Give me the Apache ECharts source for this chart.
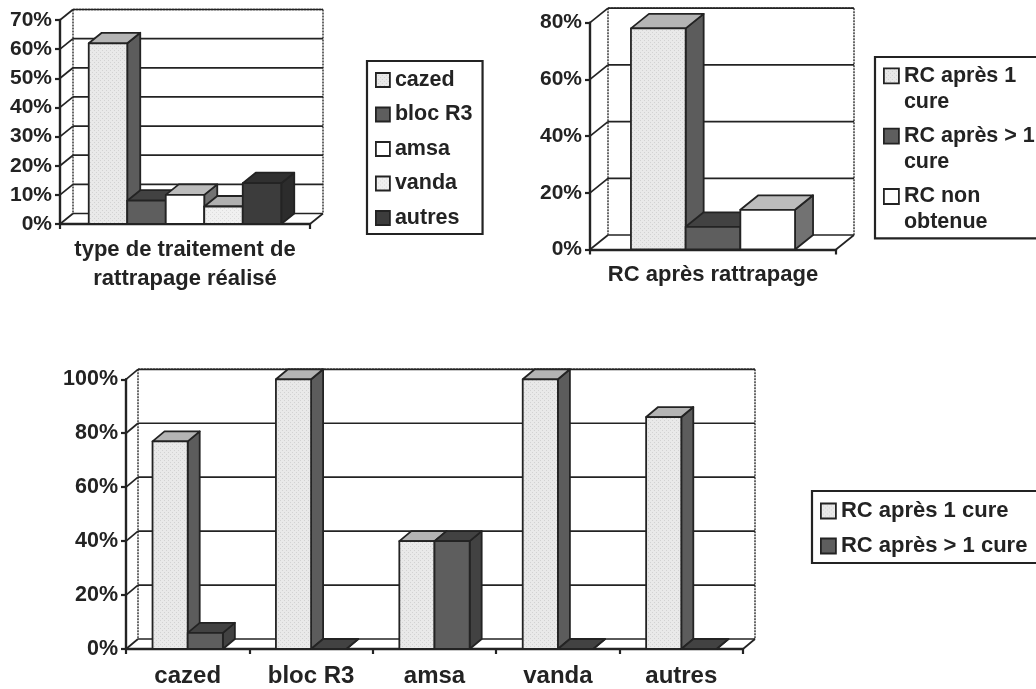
<!DOCTYPE html>
<html>
<head>
<meta charset="utf-8">
<style>html,body{margin:0;padding:0;background:#fff;overflow:hidden}#chart{width:1036px;height:689px}</style>
<script src="https://cdn.jsdelivr.net/npm/echarts@6/dist/echarts.min.js"></script>
</head>
<body>
<div id="chart"></div>
<script>
// Salvage treatment given
const treatmentLabel = ['type de traitement de\nrattrapage réalisé'];
const treatmentNames = ['cazed', 'bloc R3', 'amsa', 'vanda', 'autres'];
const treatmentValues = [62, 8, 10, 6, 14];
const treatmentTicks = [0, 10, 20, 30, 40, 50, 60, 70];

// Complete remission after salvage
const remissionLabel = ['RC après rattrapage'];
const remissionNames = ['RC après 1 cure', 'RC après > 1 cure', 'RC non obtenue'];
const remissionValues = [78, 8, 14];
const remissionTicks = [0, 20, 40, 60, 80];

// Remission by treatment
const byTreatmentCategories = ['cazed', 'bloc R3', 'amsa', 'vanda', 'autres'];
const afterOneCure = [77, 100, 40, 100, 86];
const afterSeveralCures = [6, 0, 40, 0, 0];
const byTreatmentTicks = [0, 20, 40, 60, 80, 100];

const INK = '#232323';
const FONT = '"Liberation Sans", Arial, sans-serif';

// Light stipple used on the pale bars
function stipple(base, dot) {
  const c = document.createElement('canvas');
  c.width = c.height = 4;
  const g = c.getContext('2d');
  g.fillStyle = base;
  g.fillRect(0, 0, 4, 4);
  g.fillStyle = dot;
  g.fillRect(0, 0, 1, 1);
  g.fillRect(2, 2, 1, 1);
  return { image: c, repeat: 'repeat' };
}
const PALE = stipple('#e9e9e9', '#d2d2d2');
const PALER = stipple('#f0f0f0', '#dcdcdc');
const SHADES = {
  pale: { front: PALE, top: '#b4b4b4', side: '#5c5c5c' },
  paler: { front: PALER, top: '#b0b0b0', side: '#707070' },
  mid: { front: '#5e5e5e', top: '#424242', side: '#424242' },
  white: { front: '#ffffff', top: '#bcbcbc', side: '#727272' },
  dark: { front: '#3c3c3c', top: '#303030', side: '#2c2c2c' }
};

function polygon(points, fill) {
  return {
    type: 'polygon',
    shape: { points },
    style: { fill, stroke: INK, lineWidth: 1.8, lineJoin: 'round' }
  };
}

// One series of oblique boxes; each box is placed from its category and value.
function boxSeries(name, gridIndex, data, slot, slots, barShare, depth, shade) {
  return {
    name, type: 'custom', xAxisIndex: gridIndex, yAxisIndex: gridIndex,
    itemStyle: { color: shade.front }, z: 5 + slot, silent: true,
    encode: { x: 0, y: 1 },
    data,
    renderItem(params, api) {
      const top = api.coord([api.value(0), api.value(1)]);
      const floor = api.coord([api.value(0), 0]);
      const band = api.size([1, 0])[0];
      const w = band * barShare / slots;
      const x0 = top[0] - band * barShare / 2 + slot * w;
      const x1 = x0 + w;
      const [dx, dy] = depth;
      return {
        type: 'group',
        children: [
          polygon([[x1, top[1]], [x1 + dx, top[1] + dy], [x1 + dx, floor[1] + dy], [x1, floor[1]]], shade.side),
          polygon([[x0, top[1]], [x0 + dx, top[1] + dy], [x1 + dx, top[1] + dy], [x1, top[1]]], shade.top),
          polygon([[x0, top[1]], [x1, top[1]], [x1, floor[1]], [x0, floor[1]]], shade.front)
        ]
      };
    }
  };
}

// Back wall, floor and wall gridlines, one element per tick value.
function wallSeries(gridIndex, ticks, depth) {
  const [dx, dy] = depth;
  return {
    type: 'custom', xAxisIndex: gridIndex, yAxisIndex: gridIndex, z: 1, silent: true,
    encode: { y: 1 },
    data: ticks.map((t) => [0, t]),
    renderItem(params, api) {
      const r = params.coordSys;
      const y = api.coord([0, api.value(1)])[1];
      const left = r.x, right = r.x + r.width, bottom = r.y + r.height, top = r.y;
      const solid = { stroke: INK, lineWidth: 1.7 };
      const rough = { stroke: '#444', lineWidth: 1.6, lineDash: [2, 1] };
      const line = (x1, y1, x2, y2, style) => ({ type: 'line', shape: { x1, y1, x2, y2 }, style });
      const children = [
        line(left, y, left + dx, y + dy, solid),
        line(left + dx, y + dy, right + dx, y + dy, solid)
      ];
      if (params.dataIndex === 0) {
        children.push(
          line(left + dx, top + dy, left + dx, bottom + dy, rough),
          line(right + dx, top + dy, right + dx, bottom + dy, rough),
          line(left + dx, top + dy, right + dx, top + dy, rough),
          line(right, bottom, right + dx, bottom + dy, solid)
        );
      }
      return { type: 'group', children };
    }
  };
}

function axes(gridIndex, categories, max, interval, catFont, valueFont, lineHeight, margin) {
  return {
    x: {
      type: 'category', gridIndex, data: categories,
      axisLine: { lineStyle: { color: INK, width: 2.4 } },
      axisTick: { show: true, length: 5, alignWithLabel: false, lineStyle: { color: INK, width: 2.2 } },
      axisLabel: { color: INK, fontFamily: FONT, fontWeight: 'bold', fontSize: catFont, lineHeight, margin, interval: 0 },
      splitLine: { show: false }
    },
    y: {
      type: 'value', gridIndex, min: 0, max, interval,
      axisLine: { show: true, lineStyle: { color: INK, width: 2.4 } },
      axisTick: { show: true, length: 5, lineStyle: { color: INK, width: 2.2 } },
      axisLabel: { color: INK, fontFamily: FONT, fontWeight: 'bold', fontSize: valueFont, margin: 8, formatter: '{value}%' },
      splitLine: { show: false }
    }
  };
}

const swatch = (name, shade) => ({ name, itemStyle: { color: shade.front, borderColor: INK, borderWidth: 1.8 } });

const boxFrame = { orient: 'vertical', borderColor: INK, borderWidth: 2.2, backgroundColor: '#fff', selectedMode: false };

const a1 = axes(0, treatmentLabel, 70, 10, 22, 21, 29, 11);
const a2 = axes(1, remissionLabel, 80, 20, 22, 21, 24, 13);
const a3 = axes(2, byTreatmentCategories, 100, 20, 24, 21.5, 26, 14);

const depth1 = [13, -10.5], depth2 = [18, -14.5], depth3 = [12, -10];
const shades1 = [SHADES.pale, SHADES.mid, SHADES.white, SHADES.paler, SHADES.dark];
const shades2 = [SHADES.pale, SHADES.mid, SHADES.white];

const option = {
  animation: false,
  grid: [
    { left: 60, top: 20, width: 250, height: 204 },
    { left: 590, top: 22.7, width: 246, height: 226.8 },
    { left: 126, top: 379.3, width: 617, height: 270.7 }
  ],
  xAxis: [a1.x, a2.x, a3.x],
  yAxis: [a1.y, a2.y, a3.y],
  legend: [
    Object.assign({}, boxFrame, {
      left: 367, top: 61, padding: [8, 10, 5, 8], itemWidth: 14, itemHeight: 14, itemGap: 12.5,
      icon: 'rect',
      textStyle: { color: INK, fontFamily: FONT, fontWeight: 'bold', fontSize: 21.5, lineHeight: 14 },
      data: treatmentNames.map((n, i) => swatch(n, shades1[i]))
    }),
    Object.assign({}, boxFrame, {
      left: 875, top: 57, padding: [5, 60, 2, 8], itemWidth: 15, itemHeight: 52, itemGap: 6.5,
      icon: 'path://M0 0H0 M0 5.5H15V20.5H0Z M15 52H15',
      formatter: (n) => n.replace(/^(RC après 1|RC après > 1|RC non) /, '$1\n'),
      textStyle: { color: INK, fontFamily: FONT, fontWeight: 'bold', fontSize: 21.5, lineHeight: 26 },
      data: remissionNames.map((n, i) => swatch(n, shades2[i]))
    }),
    Object.assign({}, boxFrame, {
      left: 812, top: 491, padding: [9, 30, 6, 8], itemWidth: 15, itemHeight: 15, itemGap: 13,
      icon: 'rect',
      textStyle: { color: INK, fontFamily: FONT, fontWeight: 'bold', fontSize: 22, lineHeight: 15 },
      data: [swatch(remissionNames[0], SHADES.pale), swatch(remissionNames[1], SHADES.mid)]
    })
  ],
  series: [
    wallSeries(0, treatmentTicks, depth1),
    wallSeries(1, remissionTicks, depth2),
    wallSeries(2, byTreatmentTicks, depth3),
    ...treatmentNames.map((n, i) =>
      boxSeries(n, 0, [[0, treatmentValues[i]]], i, treatmentNames.length, 0.77, depth1, shades1[i])),
    ...remissionNames.map((n, i) =>
      boxSeries(n, 1, [[0, remissionValues[i]]], i, remissionNames.length, 0.667, depth2, shades2[i])),
    boxSeries(remissionNames[0], 2, afterOneCure.map((v, i) => [i, v]), 0, 2, 0.57, depth3, SHADES.pale),
    boxSeries(remissionNames[1], 2, afterSeveralCures.map((v, i) => [i, v]), 1, 2, 0.57, depth3, SHADES.mid)
  ]
};

const chart = echarts.init(document.getElementById('chart'), null, { renderer: 'canvas', width: 1036, height: 689 });
chart.setOption(option);
</script>
</body>
</html>
